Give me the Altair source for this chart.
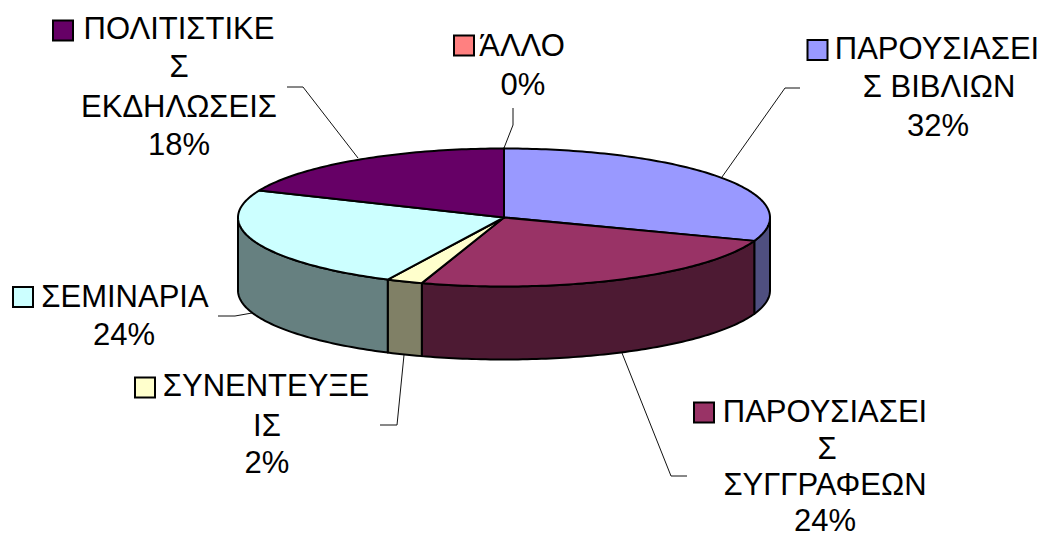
import math
import altair as alt
import pandas as pd

# ---- data ----
categories = ["ΠΑΡΟΥΣΙΑΣΕΙΣ ΒΙΒΛΙΩΝ", "ΠΑΡΟΥΣΙΑΣΕΙΣ ΣΥΓΓΡΑΦΕΩΝ", "ΣΥΝΕΝΤΕΥΞΕΙΣ",
              "ΣΕΜΙΝΑΡΙΑ", "ΠΟΛΙΤΙΣΤΙΚΕΣ ΕΚΔΗΛΩΣΕΙΣ", "ΆΛΛΟ"]
shown_percent = [32, 24, 2, 24, 18, 0]
# share of the pie each slice visibly takes in the drawn ellipse
slice_share = [30.5, 24.5, 2.2, 24.2, 18.6, 0.0]
top_colors = ["#9999FF", "#993366", "#FFFFCC", "#CCFFFF", "#660066", "#FF8080"]
side_colors = ["#4F4F80", "#4D1A33", "#808066", "#668080", "#330033", "#804040"]

label_lines = [
    ["ΠΑΡΟΥΣΙΑΣΕΙ", "Σ ΒΙΒΛΙΩΝ"],
    ["ΠΑΡΟΥΣΙΑΣΕΙ", "Σ", "ΣΥΓΓΡΑΦΕΩΝ"],
    ["ΣΥΝΕΝΤΕΥΞΕ", "ΙΣ"],
    ["ΣΕΜΙΝΑΡΙΑ"],
    ["ΠΟΛΙΤΙΣΤΙΚΕ", "Σ", "ΕΚΔΗΛΩΣΕΙΣ"],
    ["ΆΛΛΟ"],
]

# ---- layout (page pixels) ----
CX, CY, RX, RY, DEPTH = 504, 217.5, 266, 69, 73
MARGIN = 8
W, H = 1032, 530
line_x = [[937, 939, 938], [825, 827, 825, 825], [266, 267, 267], [125, 124],
          [179, 179, 179, 179], [522, 523]]
line_y = [[59, 97, 136], [422, 459, 495, 531], [396, 436, 473], [307, 345],
          [39, 77, 117, 155], [56, 95]]
swatch_xy = [(817.5, 50), (704, 412.5), (145, 387.5), (23, 297), (63, 30.5), (464, 45.5)]
leaders = [
    [(800, 88), (785, 88), (722, 177)],
    [(622, 353), (671, 476), (687, 476)],
    [(404, 355), (397, 425), (380, 425)],
    [(218, 316), (235, 316), (252, 313)],
    [(287, 87), (303, 87), (358, 158)],
    [(513, 108), (513, 125), (504, 148)],
]


def rim(t, drop=0.0):
    r = math.radians(t)
    return [CX + RX * math.sin(r), CY - RY * math.cos(r) + drop]


def arc(a, b, drop=0.0):
    n = max(2, int(abs(b - a)) + 1)
    return [rim(a + (b - a) * i / (n - 1), drop) for i in range(n)]


def feature(coords, key):
    return {"type": "Feature", "properties": {"key": key},
            "geometry": {"type": "Polygon", "coordinates": [coords + [coords[0]]]}}


features, start = [], 0.0
tops = []
for i, share in enumerate(slice_share):
    end = start + share * 3.6
    if share > 0:
        lo, hi = max(start, 90), min(end, 270)
        if lo < hi:
            features.append(feature(arc(lo, hi) + arc(hi, lo, DEPTH), "side%d" % i))
        tops.append(feature([[CX, CY]] + arc(start, end), "top%d" % i))
    start = end
features += tops

keys = ["side%d" % i for i in range(6)] + ["top%d" % i for i in range(6)]
key_colors = side_colors + top_colors

pie = alt.Chart(alt.InlineData(values={"type": "FeatureCollection", "features": features},
                               format=alt.DataFormat(property="features", type="json"))
                ).mark_geoshape(stroke="black", strokeWidth=2, strokeJoin="round").encode(
    color=alt.Color("properties.key:N", scale=alt.Scale(domain=keys, range=key_colors), legend=None)
).project(type="identity", scale=1, translate=[-MARGIN, -MARGIN])

xs = alt.Scale(domain=[MARGIN, MARGIN + W], range=[0, W])
ys = alt.Scale(domain=[MARGIN, MARGIN + H], range=[0, H])

text_rows = []
for i, lines in enumerate(label_lines):
    for j, t in enumerate(lines + ["%d%%" % shown_percent[i]]):
        text_rows.append({"t": t, "x": line_x[i][j], "y": line_y[i][j], "row": len(text_rows)})
texts = alt.Chart(pd.DataFrame(text_rows)).mark_text(
    font="Liberation Sans", fontSize=31, color="black", align="center", baseline="alphabetic"
).encode(x=alt.X("x:Q", scale=xs, axis=None), y=alt.Y("y:Q", scale=ys, axis=None), text="t:N",
         detail="row:N")

swatch_df = pd.DataFrame({"c": categories, "x": [p[0] for p in swatch_xy], "y": [p[1] for p in swatch_xy]})
swatches = alt.Chart(swatch_df).mark_square(size=400, opacity=1, stroke="black", strokeWidth=2).encode(
    x=alt.X("x:Q", scale=xs, axis=None), y=alt.Y("y:Q", scale=ys, axis=None),
    fill=alt.Fill("c:N", scale=alt.Scale(domain=categories, range=top_colors), legend=None),
)

leader_rows = [{"k": i, "o": j, "x": p[0], "y": p[1]} for i, l in enumerate(leaders) for j, p in enumerate(l)]
leader_lines = alt.Chart(pd.DataFrame(leader_rows)).mark_line(color="#111111", strokeWidth=1).encode(
    x=alt.X("x:Q", scale=xs, axis=None), y=alt.Y("y:Q", scale=ys, axis=None),
    detail="k:N", order="o:Q",
)

chart = alt.layer(leader_lines, pie, swatches, texts).resolve_scale(color="independent", fill="independent").properties(
    width=W, height=H, padding=0, autosize="none", background="white"
).configure_view(stroke=None)

chart.save("out.html", embed_options={"renderer": "svg", "actions": False})
